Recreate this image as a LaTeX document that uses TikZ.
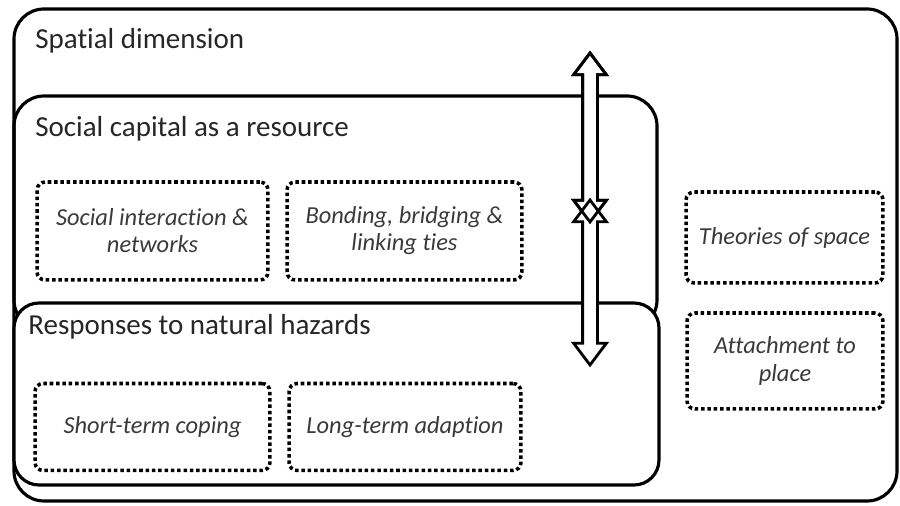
\documentclass[tikz,border=0pt]{standalone}
\usepackage{fontspec}
\setmainfont{Carlito}[Ligatures=NoCommon]
\usetikzlibrary{shapes.arrows}
\definecolor{txtgray}{HTML}{262626}
\definecolor{itgray}{HTML}{3A3A3A}
\begin{document}
\begin{tikzpicture}[x=0.02cm, y=-0.02cm,
  frame/.style={draw, line width=1.8pt, rounded corners=0.6cm},
  heading/.style={anchor=base west, inner sep=0pt, text=txtgray,
    font=\fontsize{16.5}{19}\selectfont},
  topic/.style={draw, line width=2pt, dash pattern=on 2pt off 1.6pt,
    rounded corners=0.16cm, align=center, text=itgray,
    font=\fontsize{13.9}{15.4}\selectfont\itshape},
  updown/.style={draw, fill=white, line width=1.6pt, double arrow,
    shape border rotate=90, inner sep=0.12cm,
    double arrow head extend=0.18cm, double arrow tip angle=74}]
\useasboundingbox (0,0) rectangle (900,506);
%
\draw[frame] (14,9) rectangle (897,501);
\draw (35,49) node[heading](spatial){Spatial dimension};
%
\draw[frame] (14,96) rectangle (657,330);
\draw (35,137) node[heading](social){Social capital as a resource};
\draw (152.5,231) node[topic, minimum width=4.62cm, minimum height=1.96cm]
  (interaction){Social interaction \&\\networks};
\draw (404.5,231) node[topic, minimum width=4.7cm, minimum height=1.96cm]
  (bonding){Bonding, bridging \&\\linking ties};
%
\draw[frame, fill=white, rounded corners=0.5cm] (14,303) rectangle (659,485);
\draw (28,335) node[heading](responses){Responses to natural hazards};
\draw (152.5,427) node[topic, minimum width=4.7cm, minimum height=1.74cm]
  (coping){Short-term coping};
\draw (405,427) node[topic, minimum width=4.64cm, minimum height=1.74cm]
  (adaption){Long-term adaption};
%
\draw (784.5,237.5) node[topic, minimum width=3.94cm, minimum height=1.82cm]
  (space){Theories of space};
\draw (785,361) node[topic, minimum width=3.92cm, minimum height=1.92cm]
  (place){Attachment to\\place};
%
\draw (590,137.5) node[updown, minimum height=3.38cm](upper){};
\draw (590,282.5) node[updown, minimum height=3.3cm](lower){};
% outline of the upper arrow once more, so both heads cross
\draw (upper.center) node[updown, fill=none, minimum height=3.38cm]{};
\end{tikzpicture}
\end{document}
